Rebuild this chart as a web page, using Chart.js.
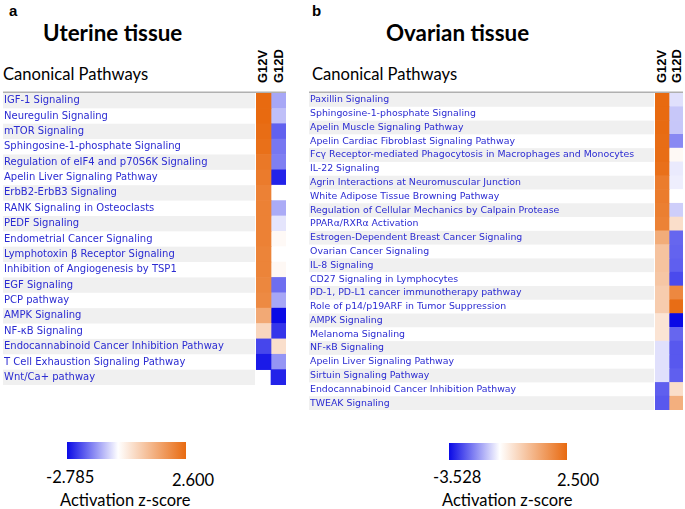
<!DOCTYPE html>
<html>
<head>
<meta charset="utf-8">
<script src="https://cdn.jsdelivr.net/npm/chart.js@4.4.0/dist/chart.umd.min.js"></script>
<style>
  body { margin: 0; background: #fff; width: 685px; height: 509px; position: relative; overflow: hidden; font-family: Lato, sans-serif; }
  .t { position: absolute; white-space: nowrap; line-height: 1; color: #000; }
  .panel { font: bold 15px 'Liberation Sans', sans-serif; }
  .title { font: bold 22.4px Lato, sans-serif; }
  .sub { font: 16.6px Lato, sans-serif; }
  .col { font: bold 13px 'Liberation Sans', sans-serif; transform: rotate(-90deg); transform-origin: left top; line-height: 15px; }
  .bar { position: absolute; height: 17px; }
  .num { font: 16.5px Lato, sans-serif; }
  canvas { position: absolute; top: 0; }
</style>
</head>
<body>

<div class="t panel" style="left:9px;top:2px">a</div>
<div class="t panel" style="left:312px;top:2px">b</div>
<div class="t title" style="left:43px;top:19px">Uterine tissue</div>
<div class="t title" style="left:386px;top:19px">Ovarian tissue</div>
<div class="t sub" style="left:3px;top:64px">Canonical Pathways</div>
<div class="t sub" style="left:312px;top:64px">Canonical Pathways</div>

<div class="t col" style="left:255px;top:83px">G12V</div>
<div class="t col" style="left:271px;top:83px">G12D</div>
<div class="t col" style="left:654px;top:83px">G12V</div>
<div class="t col" style="left:669px;top:83px">G12D</div>

<canvas id="uterine" width="300" height="400" style="left:0"></canvas>
<canvas id="ovarian" width="385" height="430" style="left:300px"></canvas>

<div class="bar" id="barA" style="left:67px;top:442px;width:119px"></div>
<div class="t num" style="left:46px;top:467px">-2.785</div>
<div class="t num" style="left:172px;top:470px">2.600</div>
<div class="t num" style="left:60px;top:490px">Activation z-score</div>

<div class="bar" id="barB" style="left:449px;top:443px;width:118px"></div>
<div class="t num" style="left:433px;top:467px">-3.528</div>
<div class="t num" style="left:557px;top:470px">2.500</div>
<div class="t num" style="left:442px;top:490px">Activation z-score</div>

<script>
const columns = ['G12V', 'G12D'];

const uterinePathways = [
  'IGF-1 Signaling',
  'Neuregulin Signaling',
  'mTOR Signaling',
  'Sphingosine-1-phosphate Signaling',
  'Regulation of eIF4 and p70S6K Signaling',
  'Apelin Liver Signaling Pathway',
  'ErbB2-ErbB3 Signaling',
  'RANK Signaling in Osteoclasts',
  'PEDF Signaling',
  'Endometrial Cancer Signaling',
  'Lymphotoxin \u03b2 Receptor Signaling',
  'Inhibition of Angiogenesis by TSP1',
  'EGF Signaling',
  'PCP pathway',
  'AMPK Signaling',
  'NF-\u03baB Signaling',
  'Endocannabinoid Cancer Inhibition Pathway',
  'T Cell Exhaustion Signaling Pathway',
  'Wnt/Ca+ pathway'
];
const uterineG12V = [2.6, 2.6, 2.55, 2.5, 2.35, 2.3, 2.2, 2.2, 2.2, 2.2, 2.15, 2.15, 2.1, 2.05, 1.5, 0.7, -2.1, -2.6, null];
const uterineG12D = [-1.0, -0.73, -1.8, -1.55, -1.45, -2.5, 0, -0.95, -0.3, 0.1, 0, 0.12, -1.65, -1.0, -2.785, -2.3, 0.55, -1.2, -2.5];
const uterineRange = [-2.785, 2.600];

const ovarianPathways = [
  'Paxillin Signaling',
  'Sphingosine-1-phosphate Signaling',
  'Apelin Muscle Signaling Pathway',
  'Apelin Cardiac Fibroblast Signaling Pathway',
  'Fc\u03b3 Receptor-mediated Phagocytosis in Macrophages and Monocytes',
  'IL-22 Signaling',
  'Agrin Interactions at Neuromuscular Junction',
  'White Adipose Tissue Browning Pathway',
  'Regulation of Cellular Mechanics by Calpain Protease',
  'PPAR\u03b1/RXR\u03b1 Activation',
  'Estrogen-Dependent Breast Cancer Signaling',
  'Ovarian Cancer Signaling',
  'IL-8 Signaling',
  'CD27 Signaling in Lymphocytes',
  'PD-1, PD-L1 cancer immunotherapy pathway',
  'Role of p14/p19ARF in Tumor Suppression',
  'AMPK Signaling',
  'Melanoma Signaling',
  'NF-\u03baB Signaling',
  'Apelin Liver Signaling Pathway',
  'Sirtuin Signaling Pathway',
  'Endocannabinoid Cancer Inhibition Pathway',
  'TWEAK Signaling'
];
const ovarianG12V = [2.5, 2.5, 2.48, 2.45, 2.45, 2.4, 2.2, 2.2, 2.15, 2.1, 1.4, 1.0, 1.0, 0.95, 0.85, 0.85, 0.45, 0.45, -0.45, -0.45, -0.45, -2.3, -2.4];
const ovarianG12D = [-0.45, -0.8, -0.8, -1.7, 0.1, -0.3, -0.25, 0, -0.7, 0.55, -2.2, -2.25, -2.3, -2.6, 2.0, 2.45, -3.528, -2.2, -2.4, -2.4, -2.3, 0.55, 1.35];
const ovarianRange = [-3.528, 2.500];

const lowColor = [10, 10, 230];
const highColor = [232, 106, 16];

function cellColor(v, range) {
  if (v === null) return 'rgba(0,0,0,0)';
  const c = v < 0 ? lowColor : highColor;
  const t = Math.min(1, v < 0 ? v / range[0] : v / range[1]);
  return 'rgb(' + c.map(k => Math.round(255 + (k - 255) * t)).join(',') + ')';
}

// alternating grey rows behind the pathway names + the rule on top
const stripes = {
  id: 'stripes',
  beforeDraw(chart, args, opts) {
    const { ctx, chartArea: a, scales: { y } } = chart;
    const h = (a.bottom - a.top) / y.ticks.length;
    ctx.save();
    ctx.fillStyle = '#f0f0f0';
    y.ticks.forEach((t, i) => {
      if (i % 2 === 0) ctx.fillRect(opts.x0, y.getPixelForTick(i) - h / 2, a.left - opts.x0 - 1, h);
    });
    ctx.fillStyle = '#b0b0b0';
    ctx.fillRect(opts.x0, a.top - 1.5, a.right - opts.x0, 1.5);
    ctx.restore();
  }
};

function heatmap(id, pathways, g12v, g12d, range, cfg) {
  const cols = [g12v, g12d];
  new Chart(document.getElementById(id), {
    type: 'bar',
    data: {
      labels: pathways,
      datasets: cols.map((vals, c) => ({
        label: columns[c],
        data: vals.map(v => v === null ? null : [c, c + 1]),
        backgroundColor: ctx => cellColor(vals[ctx.dataIndex], range),
        grouped: false,
        barPercentage: 1,
        categoryPercentage: 1,
        borderWidth: 0
      }))
    },
    options: {
      indexAxis: 'y',
      responsive: false,
      animation: false,
      events: [],
      layout: { padding: cfg.padding },
      plugins: {
        legend: { display: false },
        tooltip: { enabled: false },
        stripes: { x0: cfg.padding.left - 1 }
      },
      scales: {
        x: { type: 'linear', min: 0, max: 2, display: false },
        y: {
          grid: { display: false },
          border: { display: false },
          afterFit: s => { s.width = cfg.axisWidth; },
          ticks: {
            crossAlign: 'far',
            autoSkip: false,
            padding: 0,
            color: '#2b2bd2',
            font: { family: 'DejaVu Sans', size: cfg.fontSize }
          }
        }
      }
    },
    plugins: [stripes]
  });
}

heatmap('uterine', uterinePathways, uterineG12V, uterineG12D, uterineRange,
  { padding: { left: 4, top: 93, right: 14, bottom: 15 }, axisWidth: 252, fontSize: 10 });
heatmap('ovarian', ovarianPathways, ovarianG12V, ovarianG12D, ovarianRange,
  { padding: { left: 10, top: 93, right: 2, bottom: 20 }, axisWidth: 345, fontSize: 9.4 });

// colour bars
function gradient(range) {
  const lo = 'rgb(' + lowColor.join(',') + ')';
  const hi = 'rgb(' + highColor.join(',') + ')';
  return 'linear-gradient(to right, ' + lo + ' 0%, #ffffff 43%, ' + hi + ' 100%)';
}
document.getElementById('barA').style.background = gradient(uterineRange);
document.getElementById('barB').style.background = gradient(ovarianRange);
</script>
</body>
</html>
